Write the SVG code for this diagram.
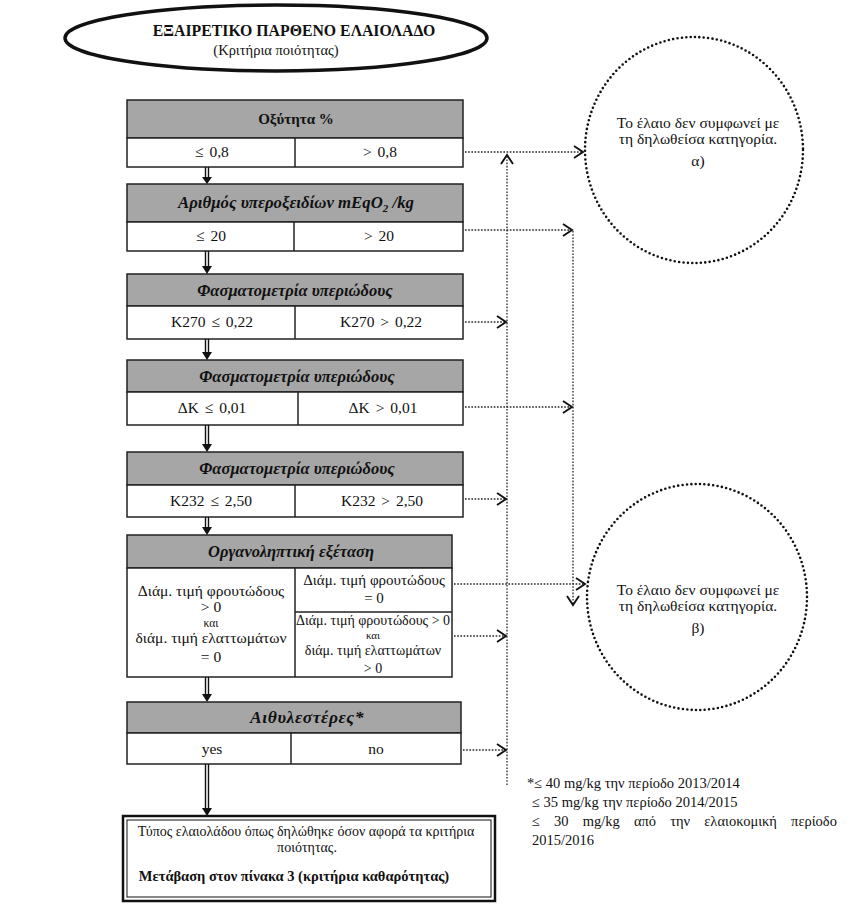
<svg xmlns="http://www.w3.org/2000/svg" width="862" height="921" viewBox="0 0 862 921" font-family="'Liberation Serif','DejaVu Serif',serif">
<defs>
<style>
.hdr{fill:#a6a6a6;stroke:#222;stroke-width:1.5}
.cell{fill:#fff;stroke:#222;stroke-width:1.5}
.ln{stroke:#222;stroke-width:1.5;fill:none}
.t{font-family:'Liberation Serif','DejaVu Serif',serif;font-size:15.5px;text-anchor:middle;fill:#111}
.r{word-spacing:2px}
.b{font-weight:bold}
.bi{font-weight:bold;font-style:italic;font-size:16.5px}
.dot{stroke:#222;stroke-width:1.3;stroke-dasharray:1.6 1.6;fill:none}
.circ{stroke:#111;stroke-width:2.6;stroke-dasharray:0 4.4;stroke-linecap:round;fill:none}
.dbl{stroke:#111;stroke-width:1.4;fill:none}
.tri{fill:#111}
</style>
<marker id="chev" viewBox="0 0 12 14" markerWidth="12" markerHeight="14" refX="10" refY="7" orient="auto" markerUnits="userSpaceOnUse">
<path d="M1,1 L10,7 L1,13" fill="none" stroke="#111" stroke-width="1.9"/>
</marker>
</defs>
<rect width="862" height="921" fill="#fff"/>

<g id="start">
<ellipse cx="276" cy="38" rx="211" ry="33" fill="#fff" stroke="#111" stroke-width="3.5"/>
<text class="t b" x="294" y="36" style="font-size:15.8px">ΕΞΑΙΡΕΤΙΚΟ ΠΑΡΘΕΝΟ ΕΛΑΙΟΛΑΔΟ</text>
<text class="t" x="276" y="55" style="font-size:14.5px">(Κριτήρια ποιότητας)</text>
</g>

<g id="acidity">
<rect class="hdr" x="127" y="100" width="336" height="38"/>
<rect class="cell" x="127" y="138" width="336" height="29"/>
<line class="ln" x1="295" y1="138" x2="295" y2="167"/>
<text class="t b" x="296" y="124" style="font-size:15px">Οξύτητα %</text>
<text class="t r" x="212" y="157">≤ 0,8</text>
<text class="t r" x="380" y="157">&gt; 0,8</text>
</g>

<g id="peroxide">
<rect class="hdr" x="127" y="184" width="336" height="38"/>
<rect class="cell" x="127" y="222" width="336" height="29"/>
<line class="ln" x1="294" y1="222" x2="294" y2="251"/>
<text class="t bi" x="296" y="208" style="font-size:16.8px">Αριθμός υπεροξειδίων mEqO<tspan style="font-size:11px" dy="4">2</tspan><tspan dy="-4"> /kg</tspan></text>
<text class="t r" x="211" y="241">≤ 20</text>
<text class="t r" x="379" y="241">&gt; 20</text>
</g>

<g id="k270">
<rect class="hdr" x="127" y="274" width="336" height="32"/>
<rect class="cell" x="127" y="306" width="336" height="33"/>
<line class="ln" x1="295" y1="306" x2="295" y2="339"/>
<text class="t bi" x="295" y="296">Φασματομετρία υπεριώδους</text>
<text class="t r" x="212" y="327">K270 ≤ 0,22</text>
<text class="t r" x="381" y="327">K270 &gt; 0,22</text>
</g>

<g id="deltak">
<rect class="hdr" x="127" y="360" width="336" height="32"/>
<rect class="cell" x="127" y="392" width="336" height="33"/>
<line class="ln" x1="298" y1="392" x2="298" y2="425"/>
<text class="t bi" x="297" y="382">Φασματομετρία υπεριώδους</text>
<text class="t r" x="212" y="413">ΔK ≤ 0,01</text>
<text class="t r" x="383" y="413">ΔK &gt; 0,01</text>
</g>

<g id="k232">
<rect class="hdr" x="127" y="452" width="336" height="33"/>
<rect class="cell" x="127" y="485" width="336" height="32"/>
<line class="ln" x1="295" y1="485" x2="295" y2="517"/>
<text class="t bi" x="297" y="474">Φασματομετρία υπεριώδους</text>
<text class="t r" x="211" y="506">K232 ≤ 2,50</text>
<text class="t r" x="382" y="506">K232 &gt; 2,50</text>
</g>

<g id="organoleptic">
<rect class="hdr" x="127" y="535" width="325" height="33"/>
<rect class="cell" x="127" y="568" width="325" height="109"/>
<line class="ln" x1="295" y1="568" x2="295" y2="677"/>
<line class="ln" x1="295" y1="612" x2="452" y2="612"/>
<text class="t bi" x="291" y="557">Οργανοληπτική εξέταση</text>
<text class="t" x="211" y="596">Διάμ. τιμή φρουτώδους</text>
<text class="t" x="211" y="612">&gt; 0</text>
<text class="t" x="211" y="627" style="font-size:11.5px">και</text>
<text class="t" x="211" y="643">διάμ. τιμή ελαττωμάτων</text>
<text class="t" x="211" y="662">= 0</text>
<text class="t" x="374" y="585" style="font-size:15px">Διάμ. τιμή φρουτώδους</text>
<text class="t" x="374" y="603" style="font-size:15px">= 0</text>
<text class="t" x="373" y="625" style="font-size:14px">Διάμ. τιμή φρουτώδους &gt; 0</text>
<text class="t" x="373" y="639" style="font-size:11px">και</text>
<text class="t" x="373" y="655" style="font-size:14px">διάμ. τιμή ελαττωμάτων</text>
<text class="t" x="373" y="673" style="font-size:14px">&gt; 0</text>
</g>

<g id="ethylesters">
<rect class="hdr" x="127" y="702" width="334" height="31"/>
<rect class="cell" x="127" y="733" width="334" height="31"/>
<line class="ln" x1="291" y1="733" x2="291" y2="764"/>
<text class="t bi" x="307" y="723" style="font-size:17.5px;letter-spacing:0.6px">Αιθυλεστέρες*</text>
<text class="t" x="212" y="754">yes</text>
<text class="t" x="376" y="754">no</text>
</g>

<g id="result">
<rect x="123" y="816" width="372" height="85" fill="#fff" stroke="#111" stroke-width="2.5"/>
<rect x="127" y="820" width="364" height="77" fill="none" stroke="#111" stroke-width="1"/>
<text class="t" x="306" y="836" style="font-size:14px">Τύπος ελαιολάδου όπως δηλώθηκε όσον αφορά τα κριτήρια</text>
<text class="t" x="307" y="852" style="font-size:14px">ποιότητας.</text>
<text class="t b" x="294" y="881" style="font-size:14.5px">Μετάβαση στον πίνακα 3 (κριτήρια καθαρότητας)</text>
</g>

<g id="reject-a">
<ellipse class="circ" cx="694" cy="150" rx="109" ry="113"/>
<text class="t" x="698" y="128">Το έλαιο δεν συμφωνεί με</text>
<text class="t" x="698" y="144">τη δηλωθείσα κατηγορία.</text>
<text class="t" x="698" y="166">α)</text>
</g>

<g id="reject-b">
<ellipse class="circ" cx="697" cy="597" rx="110" ry="113"/>
<text class="t" x="698" y="595">Το έλαιο δεν συμφωνεί με</text>
<text class="t" x="698" y="611">τη δηλωθείσα κατηγορία.</text>
<text class="t" x="698" y="633">β)</text>
</g>

<g id="footnote" font-size="14.5px" fill="#111">
<text x="527" y="788">*≤ 40 mg/kg την περίοδο 2013/2014</text>
<text x="532" y="807">≤ 35 mg/kg την περίοδο 2014/2015</text>
<text x="532" y="826" word-spacing="10.5">≤ 30 mg/kg από την ελαιοκομική περίοδο</text>
<text x="532" y="845">2015/2016</text>
</g>

<g id="connectors">
<g>
<path class="dbl" d="M205.5,167V178M208.5,167V178"/><polygon class="tri" points="202,177 212,177 207,184"/>
<path class="dbl" d="M205.5,251V267M208.5,251V267"/><polygon class="tri" points="202,266 212,266 207,274"/>
<path class="dbl" d="M205.5,339V353M208.5,339V353"/><polygon class="tri" points="202,352 212,352 207,360"/>
<path class="dbl" d="M205.5,425V445M208.5,425V445"/><polygon class="tri" points="202,444 212,444 207,452"/>
<path class="dbl" d="M205.5,517V528M208.5,517V528"/><polygon class="tri" points="202,527 212,527 207,535"/>
<path class="dbl" d="M205.5,677V695M208.5,677V695"/><polygon class="tri" points="202,694 212,694 207,702"/>
<path class="dbl" d="M205.5,764V809M208.5,764V809"/><polygon class="tri" points="202,808 212,808 207,816"/>
</g>
<line class="dot" x1="465" y1="152" x2="583" y2="152" marker-end="url(#chev)"/>
<line class="dot" x1="507" y1="785" x2="507" y2="155" marker-end="url(#chev)"/>
<line class="dot" x1="465" y1="230" x2="572" y2="230" marker-end="url(#chev)"/>
<line class="dot" x1="573" y1="231" x2="573" y2="605" marker-end="url(#chev)"/>
<line class="dot" x1="465" y1="322" x2="506" y2="322" marker-end="url(#chev)"/>
<line class="dot" x1="465" y1="407" x2="572" y2="407" marker-end="url(#chev)"/>
<line class="dot" x1="465" y1="499" x2="506" y2="499" marker-end="url(#chev)"/>
<line class="dot" x1="454" y1="584" x2="585" y2="584" marker-end="url(#chev)"/>
<line class="dot" x1="454" y1="636" x2="506" y2="636" marker-end="url(#chev)"/>
<line class="dot" x1="463" y1="750" x2="506" y2="750" marker-end="url(#chev)"/>
</g>
</svg>
